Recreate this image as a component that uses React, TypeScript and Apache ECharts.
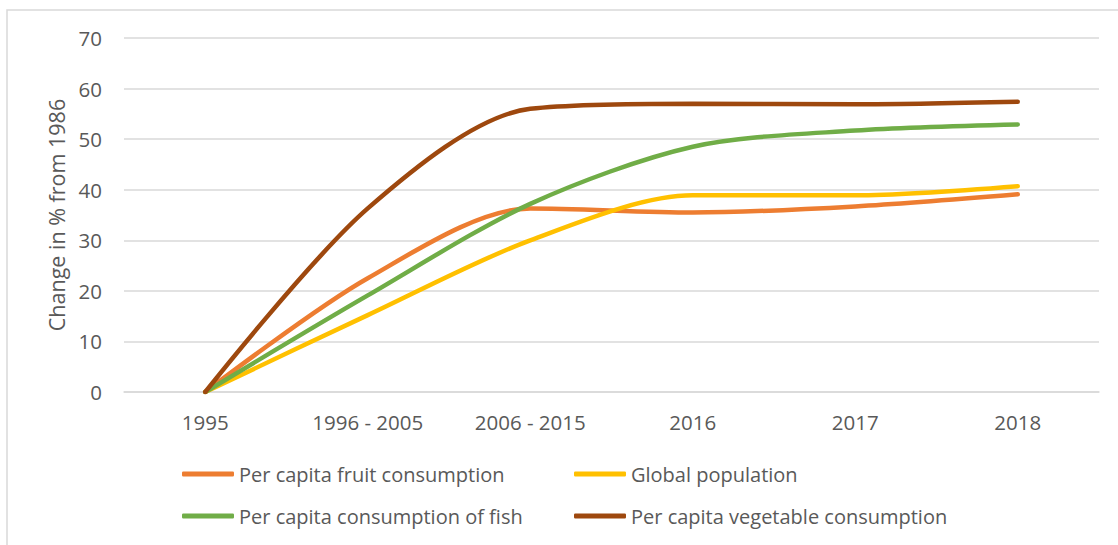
import React, { useEffect, useRef } from "react";
import * as echarts from "echarts";

const categories = ["1995", "1996 - 2005", "2006 - 2015", "2016", "2017", "2018"];
const fruit = [0, 22.5, 36.3, 35.5, 36.7, 39.1];
const population = [0, 15.2, 30, 38.9, 38.9, 40.7];
const fish = [0, 19.1, 37.2, 48.5, 51.7, 52.9];
const vegetable = [0, 36.3, 56, 57, 56.9, 57.4];
const seriesNames = [
  "Per capita fruit consumption",
  "Global population",
  "Per capita consumption of fish",
  "Per capita vegetable consumption",
];
const colors = ["#ED7D31", "#FFC000", "#70AD47", "#9E480E"];

const FONT = "'Open Sans', sans-serif";

export default function App() {
  const ref = useRef<HTMLDivElement>(null);
  useEffect(() => {
    document.body.style.margin = "0";
    const chart = echarts.init(ref.current!, null, { renderer: "svg" });
    const dataSets = [fruit, population, fish, vegetable];
    const legendText = { fontFamily: FONT, fontSize: 20, color: "#595959" };
    chart.setOption({
      animation: false,
      grid: { left: 124, right: 19, top: 38, bottom: 153 },
      graphic: [
        {
          type: "rect",
          shape: { x: 7, y: 10, width: 1300, height: 700 },
          style: { fill: "none", stroke: "#d9d9d9", lineWidth: 1.5 },
          silent: true,
        },
      ],
      xAxis: {
        type: "category",
        data: categories,
        boundaryGap: true,
        axisLine: { lineStyle: { color: "#d9d9d9", width: 1.5 } },
        axisTick: { show: false },
        axisLabel: { fontFamily: FONT, fontSize: 20.5, color: "#595959", margin: 19 },
      },
      yAxis: {
        type: "value",
        min: 0,
        max: 70,
        interval: 10,
        name: "Change in % from 1986",
        nameLocation: "middle",
        nameGap: 53,
        nameTextStyle: { fontFamily: FONT, fontSize: 21.5, color: "#595959" },
        axisLine: { show: false },
        axisTick: { show: false },
        splitLine: { lineStyle: { color: "#d9d9d9", width: 1.5 } },
        axisLabel: { fontFamily: FONT, fontSize: 20.5, color: "#595959", margin: 22 },
      },
      legend: [
        {
          data: [seriesNames[0], seriesNames[2]],
          orient: "vertical",
          left: 177,
          top: 459,
          itemWidth: 52,
          itemHeight: 5,
          itemGap: 22,
          icon: "roundRect",
          textStyle: legendText,
        },
        {
          data: [seriesNames[1], seriesNames[3]],
          orient: "vertical",
          left: 569,
          top: 459,
          itemWidth: 52,
          itemHeight: 5,
          itemGap: 22,
          icon: "roundRect",
          textStyle: legendText,
        },
      ],
      series: seriesNames.map((name, i) => ({
        name,
        type: "line",
        data: dataSets[i],
        smooth: 0.3,
        showSymbol: false,
        symbol: "none",
        color: colors[i],
        lineStyle: { width: 4.5, color: colors[i], cap: "round" },
      })),
    });
    return () => chart.dispose();
  }, []);
  return <div ref={ref} style={{ width: 1118, height: 545 }} />;
}
